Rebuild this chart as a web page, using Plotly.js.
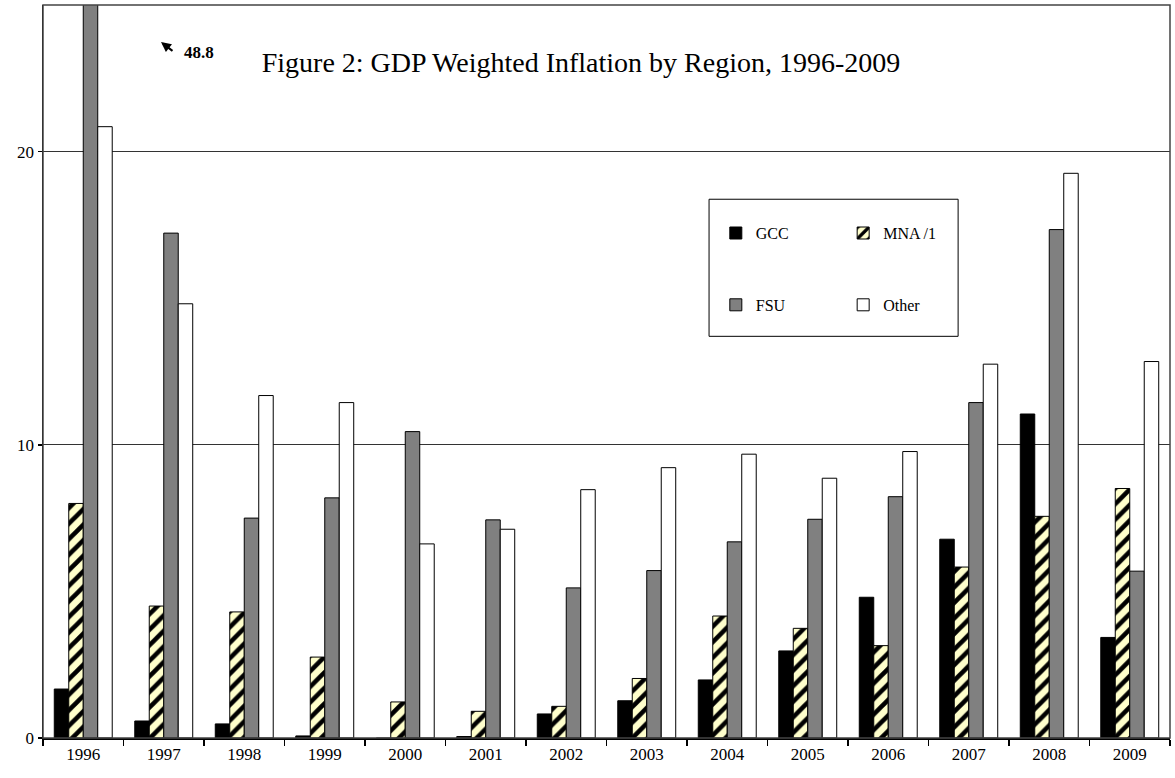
<!DOCTYPE html>
<html>
<head>
<meta charset="utf-8">
<script src="https://cdn.plot.ly/plotly-3.0.1.min.js"></script>
<style>html,body{margin:0;padding:0;background:#fff;}#chart{width:1175px;height:778px;}</style>
</head>
<body>
<div id="chart"></div>
<script>
const years = ['1996','1997','1998','1999','2000','2001','2002','2003','2004','2005','2006','2007','2008','2009'];
const gcc   = [1.67, 0.58, 0.48, 0.07, -0.10, 0.05, 0.82, 1.27, 1.98, 2.97, 4.80, 6.78, 11.05, 3.43];
const mna   = [8.00, 4.50, 4.30, 2.76, 1.23, 0.91, 1.08, 2.03, 4.16, 3.74, 3.15, 5.83, 7.56, 8.51];
const fsu   = [48.8, 17.22, 7.50, 8.19, 10.45, 7.44, 5.12, 5.71, 6.69, 7.46, 8.23, 11.44, 17.34, 5.69];
const other = [20.85, 14.81, 11.68, 11.44, 6.62, 7.12, 8.47, 9.22, 9.68, 8.86, 9.77, 12.75, 19.26, 12.84];
const seriesNames = ['GCC', 'MNA /1', 'FSU', 'Other'];
const yTicks = [0, 10, 20];

const serif = '"Liberation Serif", "Times New Roman", serif';
const outline = {color: '#000', width: 1};

const traces = [
  {type: 'bar', name: seriesNames[0], x: years, y: gcc, legend: 'legend', legendgroup: 'g1',
   marker: {color: '#000000', line: outline}},
  {type: 'bar', name: seriesNames[1], x: years, y: mna, legend: 'legend2', legendgroup: 'g2',
   marker: {color: '#FFFFCC', line: outline,
            pattern: {shape: '/', fgcolor: '#000000', bgcolor: '#FFFFCC', size: 11, solidity: 0.42, fillmode: 'replace'}}},
  {type: 'bar', name: seriesNames[2], x: years, y: fsu, legend: 'legend', legendgroup: 'g3',
   marker: {color: '#808080', line: outline}},
  {type: 'bar', name: seriesNames[3], x: years, y: other, legend: 'legend2', legendgroup: 'g4',
   marker: {color: '#FFFFFF', line: outline}}
];

const legendCommon = {
  orientation: 'v', traceorder: 'grouped', tracegroupgap: 48,
  bgcolor: 'rgba(0,0,0,0)', borderwidth: 0,
  font: {family: serif, size: 16, color: '#000'},
  xanchor: 'left', yanchor: 'top', y: 0.712
};

const layout = {
  width: 1175, height: 778,
  margin: {l: 43, r: 5, t: 5, b: 40},
  paper_bgcolor: '#fff', plot_bgcolor: '#fff',
  font: {family: serif, color: '#000'},
  title: {text: 'Figure 2: GDP Weighted Inflation by Region, 1996-2009',
          font: {family: serif, size: 28, color: '#000'},
          x: 581/1175, xanchor: 'center', xref: 'container',
          y: 1 - 62/778, yanchor: 'middle', yref: 'container'},
  barmode: 'group', bargap: 0.28, bargroupgap: 0,
  showlegend: true,
  legend: Object.assign({}, legendCommon, {x: 0.597}),
  legend2: Object.assign({}, legendCommon, {x: 0.710}),
  xaxis: {type: 'category', showline: true, linecolor: '#000', linewidth: 1.5,
          ticks: 'outside', tickson: 'boundaries', ticklen: 6, tickcolor: '#000', tickwidth: 1.5,
          tickfont: {family: serif, size: 17, color: '#000'}, showgrid: false, fixedrange: true},
  yaxis: {range: [0, 25], tickvals: yTicks, ticktext: yTicks.map(String),
          showline: true, linecolor: '#000', linewidth: 1.5,
          ticks: 'outside', ticklen: 4, tickcolor: '#000', tickwidth: 1.5,
          showgrid: true, gridcolor: '#333', gridwidth: 1.4, zeroline: false,
          tickfont: {family: serif, size: 17, color: '#000'}, fixedrange: true},
  shapes: [
    {type: 'rect', xref: 'paper', yref: 'paper', x0: 0, x1: 1, y0: 0, y1: 1,
     line: {color: '#444', width: 1.5}, fillcolor: 'rgba(0,0,0,0)', layer: 'above'},
    {type: 'rect', xref: 'paper', yref: 'paper', x0: 0.591, x1: 0.812, y0: 0.548, y1: 0.735,
     line: {color: '#000', width: 1}, fillcolor: 'rgba(0,0,0,0)', layer: 'above'}
  ],
  annotations: [
    {xref: 'paper', yref: 'paper', x: 0.1047, y: 0.9495, text: '', showarrow: true,
     ax: 13, ay: 10, arrowhead: 2, arrowsize: 1, arrowwidth: 2, arrowcolor: '#000'},
    {xref: 'paper', yref: 'paper', x: (199-43)/1127, y: (738-53)/733, text: '<b>' + fsu[0] + '</b>',
     showarrow: false, font: {family: serif, size: 17, color: '#000'}, xanchor: 'center', yanchor: 'middle'}
  ]
};

Plotly.newPlot('chart', traces, layout, {displayModeBar: false, staticPlot: true});
</script>
</body>
</html>
